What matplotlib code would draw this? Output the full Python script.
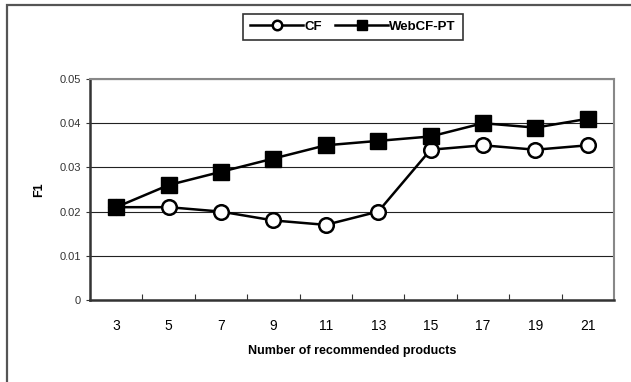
import matplotlib
matplotlib.use("Agg")
import matplotlib.pyplot as plt
from matplotlib.patches import Rectangle

# ── Data ──────────────────────────────────────────────────────────────────────
n_products = [3, 5, 7, 9, 11, 13, 15, 17, 19, 21]
cf         = [0.021, 0.021, 0.020, 0.018, 0.017, 0.020, 0.034, 0.035, 0.034, 0.035]
webcf_pt   = [0.021, 0.026, 0.029, 0.032, 0.035, 0.036, 0.037, 0.040, 0.039, 0.041]
y_ticks    = [0, 0.01, 0.02, 0.03, 0.04, 0.05]
y_labels   = ["0", "0.01", "0.02", "0.03", "0.04", "0.05"]

FONT = ["Liberation Sans Narrow", "Liberation Sans", "DejaVu Sans"]
plt.rcParams["font.family"] = FONT

fig = plt.figure(figsize=(6.31, 3.82), dpi=100)
ax = fig.add_axes([90 / 631, 1 - 300 / 382, (614 - 90) / 631, (300 - 79) / 382])

# outer chart frame
fig.patches.append(Rectangle((7 / 631, -0.1), 1.2, 1 - 5 / 382 + 0.1,
                             transform=fig.transFigure, fill=False,
                             edgecolor="#555555", lw=1.6))

x = list(range(len(n_products)))
ax.plot(x, cf, "-o", color="black", lw=1.8, ms=10.5, mfc="white",
        mec="black", mew=1.8, label="CF", zorder=3)
ax.plot(x, webcf_pt, "-s", color="black", lw=1.8, ms=11, mfc="black",
        mec="black", label="WebCF-PT", zorder=3)

ax.set_xlim(-0.5, len(n_products) - 0.5)
ax.set_ylim(0, 0.05)
ax.set_yticks(y_ticks)
ax.set_yticklabels(y_labels)
ax.yaxis.grid(True, color="#222222", lw=0.8)
ax.set_axisbelow(True)

ax.set_xticks([i + 0.5 for i in range(len(n_products) - 1)])
ax.set_xticklabels([])
ax.set_xticks(x, minor=True)
ax.set_xticklabels([str(n) for n in n_products], minor=True)
ax.tick_params(axis="x", which="major", direction="in", length=4, color="#333333")
ax.tick_params(axis="x", which="minor", length=0, pad=14)
ax.tick_params(axis="y", direction="out", length=3, color="#333333")
ax.tick_params(labelsize=8, labelcolor="#333333")

for side in ["top", "right"]:
    ax.spines[side].set_color("#888888")
    ax.spines[side].set_linewidth(1.5)
for side in ["left", "bottom"]:
    ax.spines[side].set_color("#333333")
    ax.spines[side].set_linewidth(1.8)

ax.set_xlabel("Number of recommended products", fontsize=9, fontweight="bold", labelpad=8)
ax.set_ylabel("F1", fontsize=9, fontweight="bold", labelpad=10)

leg = fig.legend(loc="center", bbox_to_anchor=(353 / 631, 1 - 27 / 382), ncol=2,
                 frameon=True, fancybox=False, edgecolor="black",
                 prop={"weight": "bold", "family": FONT, "size": 9.5},
                 handlelength=4.0, columnspacing=1.0, handletextpad=0.1,
                 borderpad=0.55, borderaxespad=0, markerscale=0.65)
leg.get_frame().set_linewidth(1.2)

fig.savefig("out.png", dpi=100)
